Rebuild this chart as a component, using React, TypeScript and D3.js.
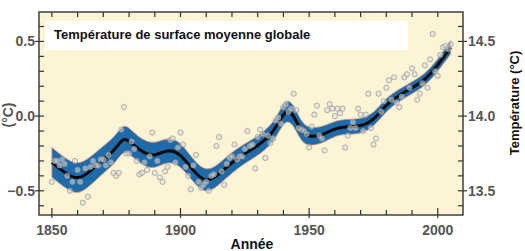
import React, { useEffect, useRef } from 'react'
import * as d3 from 'd3'

// annual global anomalies (°C, vs 1961-1990)
const years = d3.range(1850, 2006)
const anomalies = [
  -0.44, -0.3, -0.3, -0.33, -0.29, -0.32, -0.4, -0.5, -0.44, -0.3,
  -0.36, -0.44, -0.58, -0.35, -0.54, -0.34, -0.3, -0.33, -0.33, -0.29,
  -0.29, -0.33, -0.26, -0.31, -0.38, -0.4, -0.38, -0.09, 0.06, -0.25,
  -0.25, -0.17, -0.22, -0.3, -0.39, -0.38, -0.31, -0.36, -0.27, -0.11,
  -0.38, -0.3, -0.41, -0.44, -0.37, -0.34, -0.16, -0.15, -0.31, -0.21,
  -0.11, -0.19, -0.34, -0.4, -0.49, -0.33, -0.26, -0.44, -0.48, -0.46,
  -0.44, -0.5, -0.4, -0.39, -0.2, -0.14, -0.37, -0.46, -0.32, -0.28,
  -0.27, -0.19, -0.29, -0.27, -0.27, -0.22, -0.1, -0.2, -0.19, -0.35,
  -0.14, -0.09, -0.12, -0.28, -0.13, -0.18, -0.15, -0.03, -0.01, -0.05,
  0.06, 0.08, 0.03, 0.05, 0.15, 0.04, -0.08, -0.09, -0.1, -0.12,
  -0.21, -0.07, 0.01, 0.07, -0.13, -0.15, -0.23, 0.04, 0.08, 0.05,
  0.0, 0.05, 0.02, 0.05, -0.21, -0.13, -0.08, -0.04, -0.08, 0.05,
  0.01, -0.1, 0.01, 0.15, -0.08, -0.19, -0.15, 0.15, 0.03, 0.1,
  0.19, 0.24, 0.11, 0.26, 0.09, 0.06, 0.13, 0.26, 0.28, 0.19,
  0.32, 0.28, 0.11, 0.15, 0.22, 0.34, 0.19, 0.38, 0.55, 0.3,
  0.27, 0.41, 0.46, 0.47, 0.45, 0.48,
]

// decadal smoothed curve and its 5-95% half width
const smoothYears = [
  1850, 1855, 1860, 1865, 1870, 1875, 1878, 1882, 1886, 1890, 1895, 1900,
  1905, 1910, 1915, 1920, 1925, 1930, 1935, 1938, 1941, 1944, 1947, 1950,
  1955, 1960, 1965, 1970, 1975, 1980, 1985, 1990, 1995, 2000, 2005,
]
const smoothValues = [
  -0.31, -0.38, -0.43, -0.37, -0.29, -0.22, -0.13, -0.2, -0.25, -0.27, -0.22,
  -0.25, -0.37, -0.45, -0.39, -0.31, -0.25, -0.2, -0.13, -0.05, 0.05, 0.01,
  -0.11, -0.14, -0.13, -0.08, -0.07, -0.07, -0.03, 0.08, 0.14, 0.19, 0.24,
  0.34, 0.46,
]
const halfWidths = [
  0.1, 0.1, 0.1, 0.095, 0.09, 0.09, 0.09, 0.085, 0.085, 0.085, 0.08,
  0.08, 0.075, 0.075, 0.07, 0.07, 0.065, 0.065, 0.065, 0.065, 0.07, 0.07,
  0.065, 0.06, 0.055, 0.05, 0.05, 0.05, 0.045, 0.045, 0.04, 0.04, 0.04,
  0.04, 0.045,
]

const leftTicks = [-0.5, 0.0, 0.5]
const rightTicks = [13.5, 14.0, 14.5]
const xTicks = [1850, 1900, 1950, 2000]

const title = 'Température de surface moyenne globale'
const xLabel = 'Année'
const yLabelLeft = '(°C)'
const yLabelRight = 'Température (°C)'

export default function App() {
  const svgRef = useRef(null)

  useEffect(() => {
    const svg = d3.select(svgRef.current)
    svg.selectAll('*').remove()

    const left = 39
    const right = 463
    const top = 12
    const bottom = 215

    const x = d3.scaleLinear().domain([1845, 2009.8]).range([left, right])
    const y = d3.scaleLinear().domain([-0.662, 0.697]).range([bottom, top])
    const yR = d3.scaleLinear().domain([13.338, 14.697]).range([bottom, top])

    const font = 'Arial, "Liberation Sans", Helvetica, sans-serif'

    svg
      .append('rect')
      .attr('x', left)
      .attr('y', top)
      .attr('width', right - left)
      .attr('height', bottom - top)
      .attr('fill', '#fdf4d6')

    svg
      .append('rect')
      .attr('x', 45)
      .attr('y', 21)
      .attr('width', 363)
      .attr('height', 29)
      .attr('fill', '#ffffff')

    svg
      .append('text')
      .attr('x', 54)
      .attr('y', 39)
      .attr('font-family', font)
      .attr('font-size', 13)
      .attr('font-weight', 'bold')
      .attr('fill', '#111')
      .text(title)

    const smooth = smoothYears.map((yr, i) => ({
      yr,
      v: smoothValues[i],
      h: halfWidths[i],
    }))

    const band = d3
      .area()
      .x((d) => x(d.yr))
      .y0((d) => y(d.v - d.h))
      .y1((d) => y(d.v + d.h))
      .curve(d3.curveBasis)

    svg
      .append('path')
      .datum(smooth)
      .attr('d', band)
      .attr('fill', '#1f6aa8')
      .attr('stroke', '#e09a85')
      .attr('stroke-width', 1)
      .attr('stroke-opacity', 0.8)

    const line = d3
      .line()
      .x((d) => x(d.yr))
      .y((d) => y(d.v))
      .curve(d3.curveBasis)

    svg
      .append('path')
      .datum(smooth)
      .attr('d', line)
      .attr('fill', 'none')
      .attr('stroke', '#0a0a0a')
      .attr('stroke-width', 3)

    svg
      .append('g')
      .selectAll('circle')
      .data(years)
      .enter()
      .append('circle')
      .attr('cx', (d) => x(d))
      .attr('cy', (d, i) => y(anomalies[i]))
      .attr('r', 2.6)
      .attr('fill', '#dcdcdc')
      .attr('fill-opacity', 0.55)
      .attr('stroke', '#9a9a9a')
      .attr('stroke-width', 0.8)

    // ticks
    const tickColor = '#333'
    const g = svg.append('g').attr('stroke', tickColor).attr('stroke-width', 1.2)

    d3.range(-0.6, 0.65, 0.1).forEach((v) => {
      const major = leftTicks.some((t) => Math.abs(t - v) < 1e-6)
      g.append('line')
        .attr('x1', major ? left - 4 : left)
        .attr('x2', left + 5)
        .attr('y1', y(v))
        .attr('y2', y(v))
      g.append('line')
        .attr('x1', right - 5)
        .attr('x2', major ? right + 4 : right)
        .attr('y1', y(v))
        .attr('y2', y(v))
    })

    d3.range(1850, 2010, 10).forEach((yr) => {
      const major = xTicks.includes(yr)
      g.append('line')
        .attr('x1', x(yr))
        .attr('x2', x(yr))
        .attr('y1', bottom - (major ? 7 : 5))
        .attr('y2', major ? bottom + 3 : bottom)
      g.append('line')
        .attr('x1', x(yr))
        .attr('x2', x(yr))
        .attr('y1', top)
        .attr('y2', top + 5)
    })

    svg
      .append('rect')
      .attr('x', left)
      .attr('y', top)
      .attr('width', right - left)
      .attr('height', bottom - top)
      .attr('fill', 'none')
      .attr('stroke', tickColor)
      .attr('stroke-width', 1.4)

    const labelColor = '#555'

    svg
      .append('g')
      .selectAll('text')
      .data(leftTicks)
      .enter()
      .append('text')
      .attr('x', left - 4)
      .attr('y', (d) => y(d) + 5)
      .attr('text-anchor', 'end')
      .attr('font-family', font)
      .attr('font-size', 14)
      .attr('font-weight', 'bold')
      .attr('fill', labelColor)
      .text((d) => (d < 0 ? '\u2212' : '') + d3.format('.1f')(Math.abs(d)))

    svg
      .append('g')
      .selectAll('text')
      .data(rightTicks)
      .enter()
      .append('text')
      .attr('x', right + 5)
      .attr('y', (d) => yR(d) + 5)
      .attr('font-family', font)
      .attr('font-size', 14)
      .attr('font-weight', 'bold')
      .attr('fill', labelColor)
      .text((d) => d3.format('.1f')(d))

    svg
      .append('g')
      .selectAll('text')
      .data(xTicks)
      .enter()
      .append('text')
      .attr('x', (d) => x(d))
      .attr('y', 235)
      .attr('text-anchor', 'middle')
      .attr('font-family', font)
      .attr('font-size', 14)
      .attr('font-weight', 'bold')
      .attr('fill', labelColor)
      .text((d) => d)

    svg
      .append('text')
      .attr('x', 252)
      .attr('y', 249)
      .attr('text-anchor', 'middle')
      .attr('font-family', font)
      .attr('font-size', 14)
      .attr('font-weight', 'bold')
      .attr('fill', '#111')
      .text(xLabel)

    svg
      .append('text')
      .attr('transform', 'translate(13,115) rotate(-90)')
      .attr('text-anchor', 'middle')
      .attr('font-family', font)
      .attr('font-size', 14)
      .attr('font-weight', 'bold')
      .attr('fill', labelColor)
      .text(yLabelLeft)

    svg
      .append('text')
      .attr('transform', 'translate(519,103) rotate(-90)')
      .attr('text-anchor', 'middle')
      .attr('font-family', font)
      .attr('font-size', 13)
      .attr('font-weight', 'bold')
      .attr('fill', '#111')
      .text(yLabelRight)
  }, [])

  return (
    <svg
      ref={svgRef}
      width="525"
      height="251"
      style={{ position: 'absolute', left: 0, top: 0, background: '#fff' }}
    ></svg>
  )
}
